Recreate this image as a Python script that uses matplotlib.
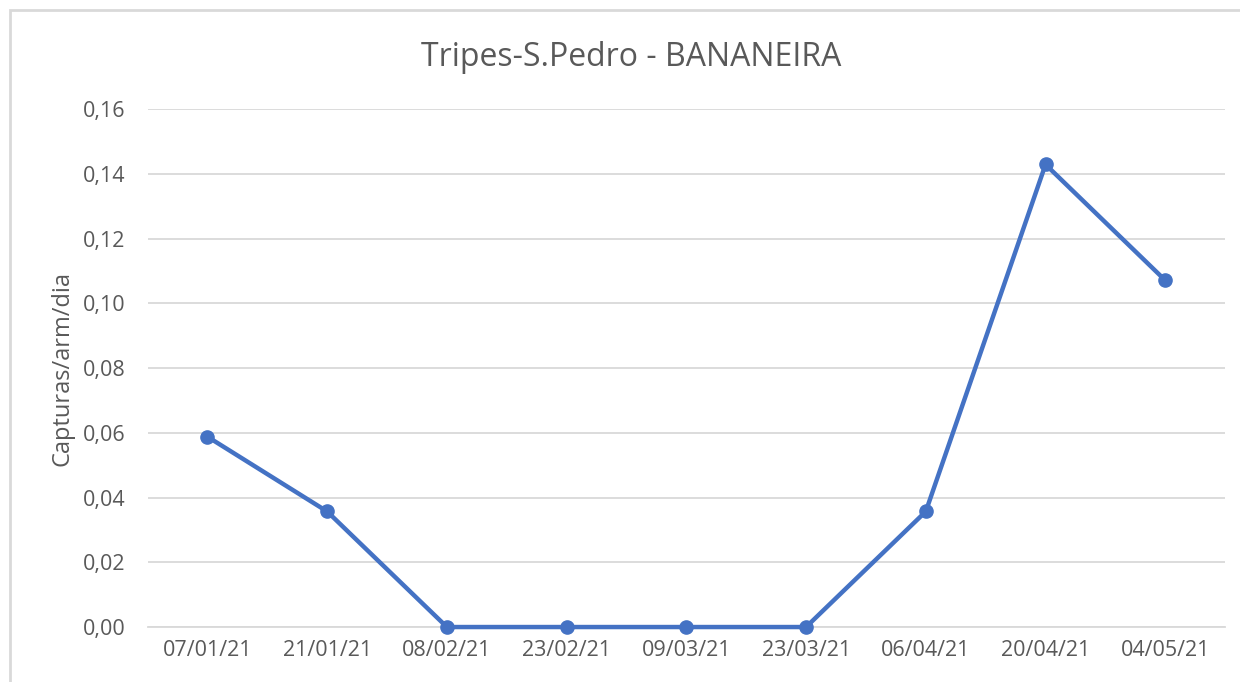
import matplotlib.pyplot as plt
from matplotlib.patches import Rectangle
from matplotlib.ticker import FuncFormatter

plt.rcParams['font.family'] = ['Open Sans', 'DejaVu Sans']

datas = ['07/01/21', '21/01/21', '08/02/21', '23/02/21', '09/03/21',
         '23/03/21', '06/04/21', '20/04/21', '04/05/21']
capturas = [0.0588, 0.0357, 0.0, 0.0, 0.0, 0.0, 0.0357, 0.1429, 0.1071]

fig = plt.figure(figsize=(12.4, 6.82), dpi=100)
ax = fig.add_axes([0.119, 0.0806, 0.869, 0.7594])

# moldura do gráfico (cortada à direita e em baixo)
fig.patches.append(Rectangle((10/1240, -0.1), 1.2, 1 - 10/682 + 0.1,
                             transform=fig.transFigure, fill=False,
                             edgecolor='#d9d9d9', linewidth=2))

x = range(len(datas))
ax.plot(x, capturas, color='#4472C4', linewidth=3.2, marker='o',
        markersize=9.5, zorder=3, clip_on=False)

ax.set_xlim(-0.5, len(datas) - 0.5)
ax.set_ylim(0, 0.16)
ax.set_yticks([0, 0.02, 0.04, 0.06, 0.08, 0.10, 0.12, 0.14, 0.16])
ax.yaxis.set_major_formatter(FuncFormatter(lambda v, p: ('%.2f' % v).replace('.', ',')))
ax.set_xticks(list(x))
ax.set_xticklabels(datas)
ax.grid(axis='y', color='#d9d9d9', linewidth=1.3)
ax.set_axisbelow(True)
for s in ['top', 'right', 'left']:
    ax.spines[s].set_visible(False)
ax.spines['bottom'].set_color('#d9d9d9')
ax.spines['bottom'].set_linewidth(1.3)
ax.tick_params(length=0, labelsize=15.5, colors='#595959', pad=9)
ax.tick_params(axis='y', pad=16)

ax.set_ylabel('Capturas/arm/dia', fontsize=17, color='#595959', labelpad=6)
fig.text(0.509, 0.915, 'Tripes-S.Pedro - BANANEIRA', ha='center', va='center',
         fontsize=23, color='#595959')

fig.savefig('out.png', dpi=100, facecolor='white')
